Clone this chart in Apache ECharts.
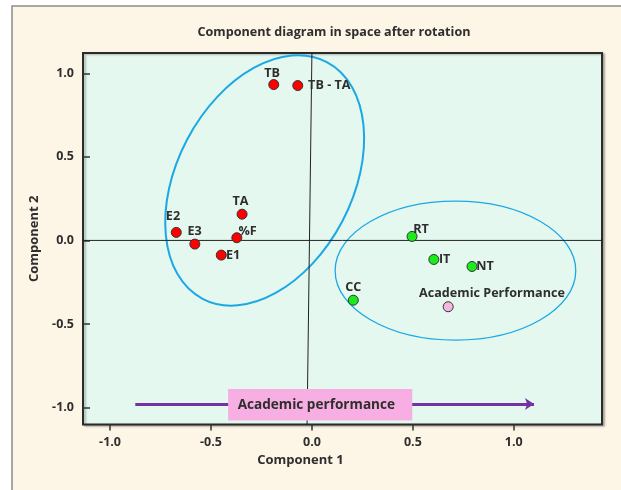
<!DOCTYPE html>
<html>
<head>
<meta charset="utf-8">
<script src="https://cdn.jsdelivr.net/npm/echarts@6/dist/echarts.min.js"></script>
<style>
html,body{margin:0;padding:0;background:#fff;}
#main{width:621px;height:490px;}
</style>
</head>
<body>
<div id="main"></div>
<script>
// ---- data ----
const titleText = 'Component diagram in space after rotation';
const xName = 'Component 1';
const yName = 'Component 2';
const tickValues = [-1.0, -0.5, 0.0, 0.5, 1.0];
const xRange = [-1.134, 1.437];
const yRange = [-1.102, 1.122];

const redNames = ['TB', 'TB - TA', 'TA', 'E2', 'E3', '%F', 'E1'];
const redX = [-0.189, -0.070, -0.346, -0.672, -0.580, -0.372, -0.449];
const redY = [0.933, 0.927, 0.157, 0.048, -0.022, 0.016, -0.088];

const greenNames = ['RT', 'IT', 'NT', 'CC'];
const greenX = [0.496, 0.604, 0.793, 0.205];
const greenY = [0.024, -0.114, -0.156, -0.358];

const pinkNames = ['Academic Performance'];
const pinkX = [0.675];
const pinkY = [-0.397];

// ellipses: [centerX, centerY, semiX (x units), semiY (y units), tiltDeg clockwise]
const ellipseLeft = [-0.234, 0.359, 0.4345, 0.800, 27.7];
const ellipseRight = [0.711, -0.181, 0.596, 0.416, 0];

// reference axes through origin (slightly tilted vertical line as in source)
const vLine = [[0.0, 1.122], [-0.024, -1.102]];
const hLine = [[-1.134, 0.0], [1.437, 0.0]];

// arrow and its caption box
const arrowLine = [[-0.875, -0.979], [1.100, -0.979]];
const boxText = 'Academic performance';
const boxRange = [-0.415, -0.889, 0.497, -1.078];

// ---- styling (label placement offsets in px from point centre) ----
const labelOffsets = {
  'TB': [-1.7, -11], 'TB - TA': [31.5, 0], 'TA': [-1.7, -13.2], 'E2': [-3.3, -15.6],
  'E3': [-0.2, -12.3], '%F': [10.8, -6], 'E1': [11.9, 0],
  'RT': [9, -7.1], 'IT': [10.8, 0], 'NT': [13, 0], 'CC': [0, -12.5],
  'Academic Performance': [43.8, -13.4]
};
const FONT = 'Open Sans';
const TXT = '#2e2e2e';

function pts(names, xs, ys) {
  return names.map((n, i) => ({
    name: n, value: [xs[i], ys[i]],
    label: { offset: labelOffsets[n] }
  }));
}

const chart = echarts.init(document.getElementById('main'));

function scatterSeries(data, color) {
  return {
    type: 'scatter', z: 10, symbol: 'circle', symbolSize: 10,
    itemStyle: { color: color, borderColor: '#333', borderWidth: 1, opacity: 1 },
    label: {
      show: true, position: 'inside', align: 'center', verticalAlign: 'middle',
      formatter: '{b}', color: TXT, fontFamily: FONT, fontWeight: 'bold', fontSize: 12.6
    },
    emphasis: { disabled: true },
    data: data
  };
}

function ellipseSeries(e, width) {
  return {
    type: 'custom', z: 3, silent: true,
    renderItem: function (params, api) {
      const c = api.coord([api.value(0), api.value(1)]);
      const s = api.size([api.value(2), api.value(3)]);
      return {
        type: 'ellipse', x: c[0], y: c[1],
        rotation: -api.value(4) * Math.PI / 180,
        shape: { cx: 0, cy: 0, rx: s[0], ry: s[1] },
        style: { fill: null, stroke: '#1ba8e5', lineWidth: width }
      };
    },
    data: [e]
  };
}

const option = {
  backgroundColor: '#ffffff',
  animation: false,
  graphic: [{
    type: 'rect', z: -10, silent: true,
    shape: { x: 12, y: 6, width: 700, height: 600 },
    style: { fill: '#fdf5e5', stroke: '#8c8c8c', lineWidth: 1.5 }
  }, {
    type: 'text', z: 5, silent: true, x: 300.5, y: 460,
    style: { text: xName, fill: TXT, font: 'bold 13px ' + FONT, textAlign: 'center', textVerticalAlign: 'middle', verticalAlign: 'middle' }
  }],
  title: {
    text: titleText, left: 329, top: 21, textAlign: 'center',
    textStyle: { fontFamily: FONT, fontWeight: 'bold', fontSize: 12.6, color: TXT }
  },
  grid: {
    left: 83, top: 53, right: 19, bottom: 65.5, show: true,
    backgroundColor: '#e4f8ef', borderColor: '#2a2a2a', borderWidth: 2,
    shadowColor: 'rgba(0,0,0,0.25)', shadowBlur: 2, shadowOffsetX: 2, shadowOffsetY: 1,
    containLabel: false, outerBoundsMode: 'none'
  },
  xAxis: {
    type: 'value', min: xRange[0], max: xRange[1],
    axisLine: { show: false, onZero: false },
    splitLine: { show: false },
    axisTick: { show: true, customValues: tickValues, length: 6, inside: false, lineStyle: { color: '#333', width: 1.5 } },
    axisLabel: { customValues: tickValues, formatter: v => v.toFixed(1), margin: 11,
      fontFamily: FONT, fontWeight: 'bold', fontSize: 12.5, color: TXT }
  },
  yAxis: {
    type: 'value', min: yRange[0], max: yRange[1],
    name: yName, nameLocation: 'middle', nameGap: 42,
    nameTextStyle: { fontFamily: FONT, fontWeight: 'bold', fontSize: 13, color: TXT },
    axisLine: { show: false, onZero: false },
    splitLine: { show: false },
    axisTick: { show: true, customValues: tickValues, length: 7, inside: true, lineStyle: { color: '#333', width: 1.5 } },
    axisLabel: { customValues: tickValues, formatter: v => v.toFixed(1), margin: 9,
      fontFamily: FONT, fontWeight: 'bold', fontSize: 12.5, color: TXT }
  },
  series: [
    ellipseSeries(ellipseLeft, 2),
    ellipseSeries(ellipseRight, 1.3),
    { type: 'line', z: 4, silent: true, symbol: 'none', data: vLine,
      lineStyle: { color: '#222', width: 1 } },
    { type: 'line', z: 4, silent: true, symbol: 'none', data: hLine,
      lineStyle: { color: '#222', width: 1 } },
    { type: 'lines', coordinateSystem: 'cartesian2d', z: 5, silent: true,
      symbol: ['none', 'arrow'], symbolSize: 9,
      lineStyle: { color: '#7432a4', width: 3, opacity: 1 },
      data: [{ coords: arrowLine }] },
    { type: 'custom', z: 6, silent: true,
      renderItem: function (params, api) {
        const p0 = api.coord([api.value(0), api.value(1)]);
        const p1 = api.coord([api.value(2), api.value(3)]);
        return {
          type: 'group', children: [
            { type: 'rect', shape: { x: p0[0], y: p0[1], width: p1[0] - p0[0], height: p1[1] - p0[1] },
              style: { fill: '#f7aee3' } },
            { type: 'text', x: p0[0] + 9.5, y: (p0[1] + p1[1]) / 2,
              style: { text: boxText, fill: TXT, font: 'bold 13.6px ' + FONT,
                textAlign: 'left', textVerticalAlign: 'middle', verticalAlign: 'middle' } }
          ]
        };
      },
      data: [boxRange] },
    scatterSeries(pts(redNames, redX, redY), '#ff0000'),
    scatterSeries(pts(greenNames, greenX, greenY), '#19ec19'),
    scatterSeries(pts(pinkNames, pinkX, pinkY), '#f6b6e2')
  ]
};
chart.setOption(option);
</script>
</body>
</html>
